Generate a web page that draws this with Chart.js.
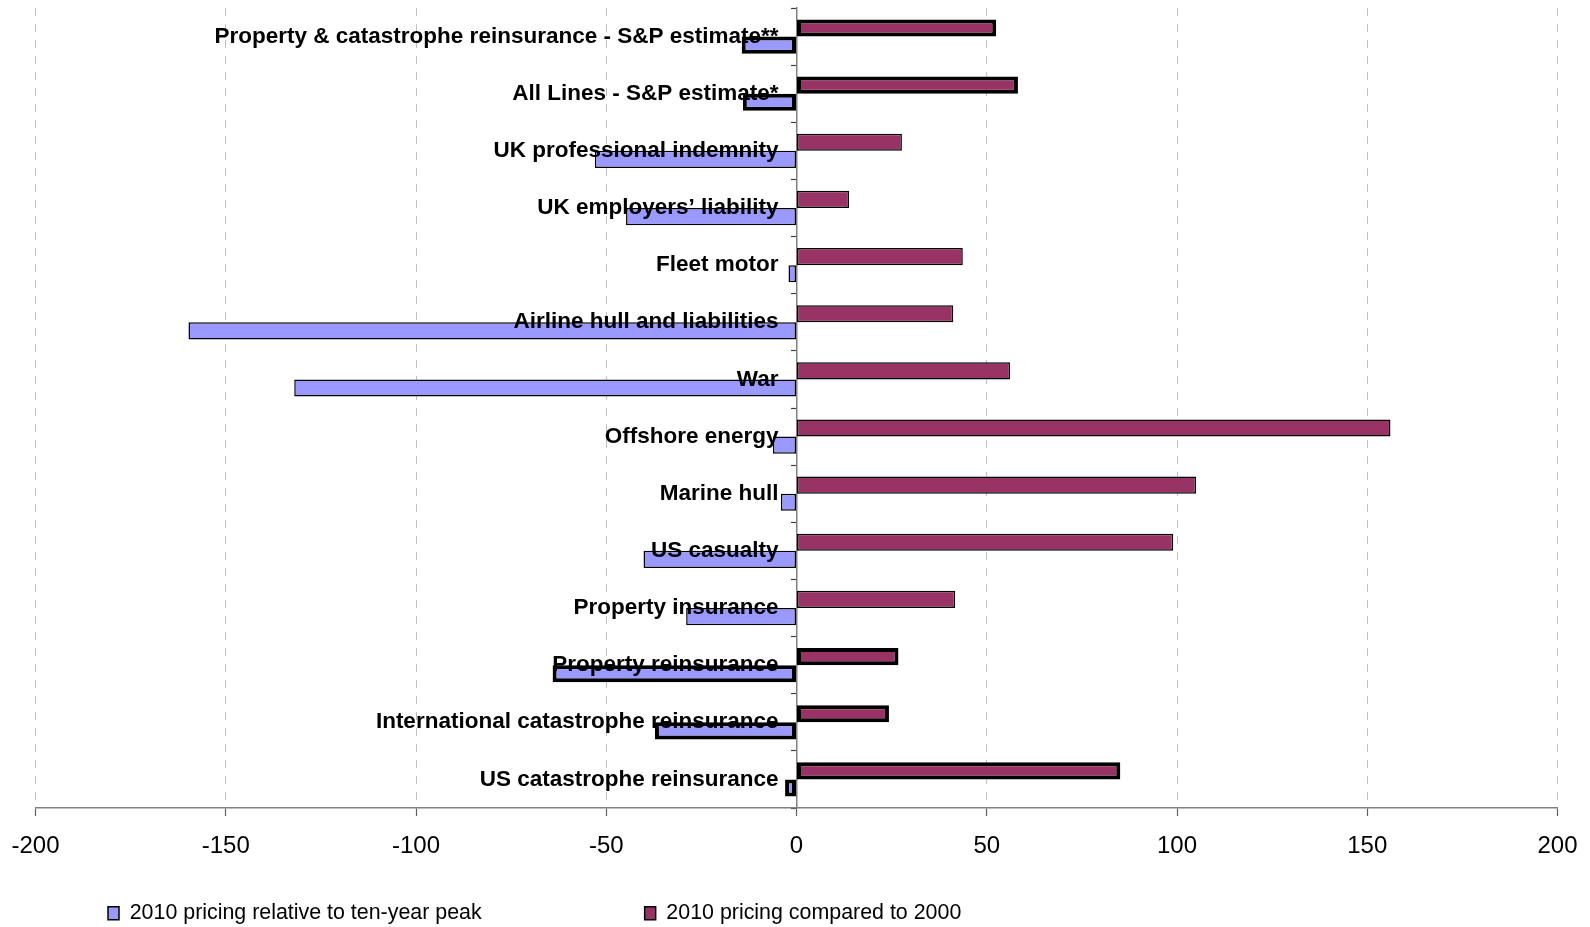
<!DOCTYPE html>
<html>
<head>
<meta charset="utf-8">
<script src="https://cdn.jsdelivr.net/npm/chart.js@4.4.1/dist/chart.umd.min.js"></script>
<style>
  html, body { margin: 0; padding: 0; background: #ffffff; }
  #wrap { width: 1590px; height: 927px; }
</style>
</head>
<body>
<div id="wrap"><canvas id="c" width="1590" height="927"></canvas></div>
<script>
const categories = [
  "Property & catastrophe reinsurance - S&P estimate**",
  "All Lines - S&P estimate*",
  "UK professional indemnity",
  "UK employers\u2019 liability",
  "Fleet motor",
  "Airline hull and liabilities",
  "War",
  "Offshore energy",
  "Marine hull",
  "US casualty",
  "Property insurance",
  "Property reinsurance",
  "International catastrophe reinsurance",
  "US catastrophe reinsurance"
];
const seriesNames = ["2010 pricing relative to ten-year peak", "2010 pricing compared to 2000"];
const relativeToPeak = [-14.4, -14.1, -53, -44.8, -2.1, -159.8, -132, -6.2, -4.1, -40.2, -29, -64.1, -37.2, -3];
const comparedTo2000 = [52.5, 58.2, 27.7, 13.8, 43.7, 41.2, 56.1, 156.1, 105, 99, 41.7, 26.8, 24.3, 85.1];
const boldOutline = [true, true, false, false, false, false, false, false, false, false, false, true, true, true];
const xTicks = [-200, -150, -100, -50, 0, 50, 100, 150, 200];

Chart.defaults.font.family = "'Liberation Sans', Arial, sans-serif";
Chart.defaults.color = "#000000";

const borderWidths = boldOutline.map(b => b ? 4 : 1.5);
const LEGEND_PAD = 163;
const Y_LABEL_GAP = 18;

const legendPlacer = {
  id: 'legendPlacer',
  afterLayout(chart) {
    const lg = chart.legend;
    if (!lg) return;
    lg.left = 108 - LEGEND_PAD;
    lg.right = 1590;
    lg.top = 902.5 - LEGEND_PAD;
    lg.bottom = 927;
    lg.width = lg.right - lg.left;
    lg.height = lg.bottom - lg.top;
  }
};

function shiftYLabels(scale) {
  if (scale._labelShiftPatched) return;
  scale._labelShiftPatched = true;
  const orig = scale._computeLabelItems;
  scale._computeLabelItems = function (chartArea) {
    const items = orig.call(this, chartArea);
    items.forEach(it => {
      if (it.options && it.options.translation) {
        it.options.translation = [it.options.translation[0] - Y_LABEL_GAP, it.options.translation[1]];
      }
    });
    return items;
  };
}

new Chart(document.getElementById('c'), {
  type: 'bar',
  data: {
    labels: categories,
    datasets: [
      {
        label: seriesNames[1],
        data: comparedTo2000,
        backgroundColor: '#993366',
        borderColor: '#000000',
        borderWidth: borderWidths,
        borderSkipped: false,
        categoryPercentage: 0.6,
        barPercentage: 1.0
      },
      {
        label: seriesNames[0],
        data: relativeToPeak,
        backgroundColor: '#9999FF',
        borderColor: '#000000',
        borderWidth: borderWidths,
        borderSkipped: false,
        categoryPercentage: 0.6,
        barPercentage: 1.0
      }
    ]
  },
  options: {
    indexAxis: 'y',
    responsive: false,
    animation: false,
    layout: { padding: { left: 35.5, right: 32.5, top: 8, bottom: 0 } },
    scales: {
      x: {
        type: 'linear',
        position: 'bottom',
        min: -200,
        max: 200,
        afterBuildTicks: (scale) => { scale.ticks = xTicks.map(v => ({ value: v })); },
        ticks: {
          font: { size: 24 },
          color: '#000000',
          padding: 16,
          maxRotation: 0
        },
        grid: {
          color: '#c0c0c0',
          lineWidth: 1,
          drawTicks: true,
          tickLength: 8,
          tickColor: '#606060',
          tickWidth: 1.2
        },
        border: { display: true, color: '#808080', width: 1.5, dash: [8, 8] },
        afterFit: (scale) => { scale.height = 118; scale.paddingLeft = 0; scale.paddingRight = 0; }
      },
      y: {
        type: 'category',
        position: { x: 0 },
        offset: true,
        ticks: {
          font: { size: 22.5, weight: 'bold' },
          color: '#000000',
          padding: 14,
          autoSkip: false,
          z: 1
        },
        grid: {
          display: true,
          drawOnChartArea: false,
          drawTicks: true,
          offset: true,
          tickLength: 5,
          tickColor: '#404040',
          tickWidth: 1.2
        },
        border: { display: true, color: '#808080', width: 1.5 },
        afterFit: (scale) => { scale.paddingTop = 0; scale.paddingBottom = 0; shiftYLabels(scale); }
      }
    },
    plugins: {
      tooltip: { enabled: false },
      legend: {
        display: true,
        position: 'bottom',
        align: 'start',
        maxHeight: 1,
        labels: {
          font: { size: 21.4 },
          color: '#000000',
          boxWidth: 11,
          boxHeight: 13,
          padding: LEGEND_PAD,
          generateLabels: (chart) => {
            const items = Chart.defaults.plugins.legend.labels.generateLabels(chart);
            items.forEach(it => { it.lineWidth = 1.5; it.strokeStyle = '#000000'; });
            return items;
          },
          sort: (a, b) => b.datasetIndex - a.datasetIndex
        }
      }
    }
  },
  plugins: [legendPlacer]
});
</script>
</body>
</html>
